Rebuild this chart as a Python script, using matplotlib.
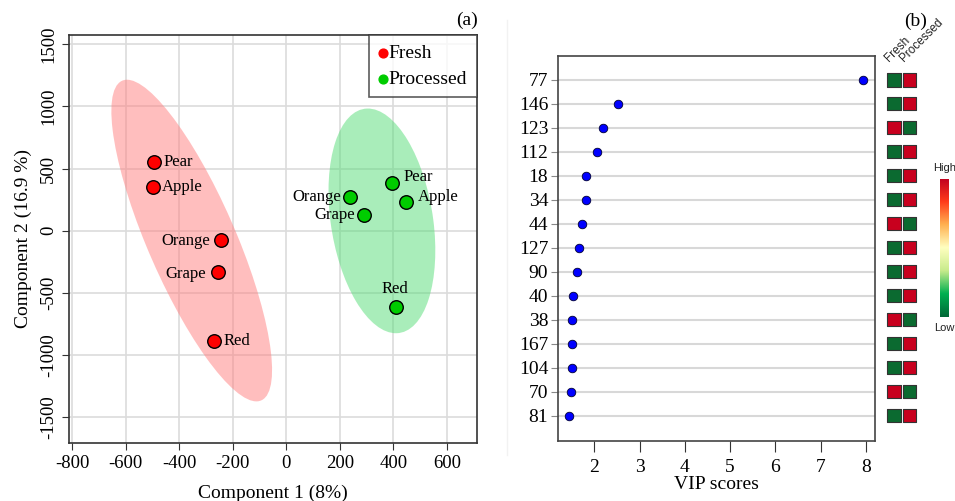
import numpy as np
import matplotlib
matplotlib.use("Agg")
import matplotlib.pyplot as plt
from matplotlib.patches import Ellipse
from matplotlib.colors import LinearSegmentedColormap

# ---------------- data ----------------
fruits = ["Pear", "Apple", "Orange", "Grape", "Red"]
fresh_x = [-496, -500, -243, -257, -272]
fresh_y = [551, 349, -76, -335, -889]
proc_x = [396, 448, 239, 291, 410]
proc_y = [383, 229, 270, 125, -615]

features = ["77", "146", "123", "112", "18", "34", "44", "127", "90", "40",
            "38", "167", "104", "70", "81"]
vip = [7.93, 2.52, 2.19, 2.07, 1.82, 1.81, 1.73, 1.66, 1.62, 1.54,
       1.51, 1.50, 1.50, 1.48, 1.45]
# 1 = high, 0 = low  (Fresh, Processed)
fresh_level = [0, 0, 1, 0, 0, 0, 1, 0, 0, 0, 1, 0, 0, 1, 0]
proc_level = [1, 1, 0, 1, 1, 1, 0, 1, 1, 1, 0, 1, 1, 0, 1]
heat_cols = ["Fresh", "Processed"]

xticks_a = [-800, -600, -400, -200, 0, 200, 400, 600]
yticks_a = [-1500, -1000, -500, 0, 500, 1000, 1500]
xticks_b = [2, 3, 4, 5, 6, 7, 8]

SERIF = ["Liberation Serif", "DejaVu Serif"]
SANS = ["Liberation Sans", "DejaVu Sans"]
plt.rcParams["font.family"] = SERIF
plt.rcParams["axes.unicode_minus"] = False

W, H = 955, 501
fig = plt.figure(figsize=(W / 100, H / 100), dpi=100)


def px_axes(l, t, r, b):
    return fig.add_axes([l / W, 1 - b / H, (r - l) / W, (b - t) / H])


# ---------------- panel (a) ----------------
ax = px_axes(69, 35, 477, 443)
ax.set_xlim(-812, 712)
ax.set_ylim(-1710, 1575)
ax.set_xticks(xticks_a)
ax.set_yticks(yticks_a)
ax.grid(True, color="#dcdcdc", lw=1.2)
ax.set_axisbelow(True)
for s in ax.spines.values():
    s.set_color("#333333")
    s.set_linewidth(1.2)
ax.tick_params(axis="both", labelsize=13.5, color="#333333", length=5)
for lab in ax.get_yticklabels():
    lab.set_rotation(90)
    lab.set_va("center")


def conf_ellipse(xs, ys, color, k=2.27):
    xs = np.asarray(xs, float)
    ys = np.asarray(ys, float)
    cov = np.cov(xs, ys)
    vals, vecs = np.linalg.eigh(cov)
    order = vals.argsort()[::-1]
    vals, vecs = vals[order], vecs[:, order]
    ang = np.degrees(np.arctan2(vecs[1, 0], vecs[0, 0]))
    e = Ellipse((xs.mean(), ys.mean()), 2 * k * np.sqrt(vals[0]),
                2 * k * np.sqrt(vals[1]), angle=ang, facecolor=color,
                edgecolor="none", alpha=0.5, zorder=1)
    ax.add_patch(e)


conf_ellipse(fresh_x, fresh_y, "#ff7f7f")
conf_ellipse(proc_x, proc_y, "#55dd77")

ax.scatter(fresh_x, fresh_y, s=95, c="#ff0000", edgecolors="black",
           linewidths=1.0, zorder=3)
ax.scatter(proc_x, proc_y, s=95, c="#00cc00", edgecolors="black",
           linewidths=1.0, zorder=3)

lab_kw = dict(fontsize=12, zorder=4)
# Fresh labels
for name, x, y in zip(fruits, fresh_x, fresh_y):
    if name in ("Pear", "Apple", "Red"):
        ax.annotate(name, (x, y), xytext=(7, 0), textcoords="offset points",
                    ha="left", va="center", **lab_kw)
    else:
        ax.annotate(name, (x, y), xytext=(-8, -1), textcoords="offset points",
                    ha="right", va="center", **lab_kw)
# Processed labels
for name, x, y in zip(fruits, proc_x, proc_y):
    if name in ("Pear", "Apple"):
        ax.annotate(name, (x, y), xytext=(8, 4), textcoords="offset points",
                    ha="left", va="center", **lab_kw)
    elif name == "Red":
        ax.annotate(name, (x, y), xytext=(-1, 7), textcoords="offset points",
                    ha="center", va="bottom", **lab_kw)
    else:
        ax.annotate(name, (x, y), xytext=(-7, 0), textcoords="offset points",
                    ha="right", va="center", **lab_kw)

h1 = ax.scatter([], [], s=40, c="#ff0000")
h2 = ax.scatter([], [], s=40, c="#00cc00")
leg = ax.legend([h1, h2], ["Fresh", "Processed"], loc="upper right",
                fontsize=14, frameon=True, fancybox=False, handlelength=0.4,
                handletextpad=0.1, borderpad=0.5, labelspacing=0.4,
                borderaxespad=0.0)
leg.get_frame().set_edgecolor("#333333")
leg.get_frame().set_linewidth(1.2)

ax.set_xlabel("Component 1 (8%)", fontsize=14, labelpad=9)
ax.set_ylabel("Component 2 (16.9 %)", fontsize=14, labelpad=6)
fig.text(467 / W, 1 - 20 / H, "(a)", fontsize=14, ha="center", va="center")

# ---------------- panel (b) ----------------
# faint outer frame of the VIP panel
fig.add_artist(plt.Line2D([507 / W, 507 / W], [1 - 20 / H, 1 - 455 / H],
                          color="#f2f2f2", lw=1.0))

bx = px_axes(558, 56, 875, 441)
rows = np.arange(len(features))
bx.set_xlim(1.2, 8.2)
bx.set_ylim(len(features) + 0.05, -1)
bx.set_yticks(rows)
bx.set_yticklabels(features)
bx.set_xticks(xticks_b)
for r in rows:
    bx.axhline(r, color="#d8d8d8", lw=1.5, zorder=0)
bx.scatter(vip, rows, s=38, c="#0000ff", edgecolors="#000033",
           linewidths=0.6, zorder=3)
for s in bx.spines.values():
    s.set_color("#444444")
    s.set_linewidth(1.2)
bx.tick_params(axis="y", labelsize=14, length=5, color="#888888", pad=2)
bx.tick_params(axis="x", labelsize=14, length=8, color="#333333", pad=5)
bx.set_xlabel("VIP scores", fontsize=14, labelpad=0)
fig.text(916 / W, 1 - 21 / H, "(b)", fontsize=14, ha="center", va="center")

# heatmap squares
hx = px_axes(884.6, 56, 919.1, 441)
hx.set_xlim(-0.6, 1.6)
hx.set_ylim(len(features) + 0.05, -1)
hx.axis("off")
colmap = {1: "#c8001e", 0: "#0b6a30"}
hx.scatter(np.zeros(len(rows)), rows, marker="s", s=88,
           c=[colmap[v] for v in fresh_level], edgecolors="#333333",
           linewidths=0.8)
hx.scatter(np.ones(len(rows)), rows, marker="s", s=88,
           c=[colmap[v] for v in proc_level], edgecolors="#333333",
           linewidths=0.8)
for i, name in enumerate(heat_cols):
    hx.text(i - 0.2, -0.68, name, rotation=45, fontsize=8.5, family=SANS,
            ha="left", va="bottom", rotation_mode="anchor", color="#222222",
            clip_on=False)

# colour key
cmap = LinearSegmentedColormap.from_list(
    "key", ["#006837", "#00b050", "#c8eb8c", "#ffffc0", "#ffb050",
            "#ff3a1a", "#c00020"])
cx = px_axes(940, 179, 949, 317)
cx.imshow(np.linspace(0, 1, 256)[:, None], aspect="auto", cmap=cmap,
          origin="lower")
cx.set_xticks([])
cx.set_yticks([])
for s in cx.spines.values():
    s.set_visible(False)
fig.text(944.5 / W, 1 - 168 / H, "High", fontsize=8, family=SANS,
         ha="center", va="center", color="#222222")
fig.text(944.5 / W, 1 - 328 / H, "Low", fontsize=8, family=SANS,
         ha="center", va="center", color="#222222")

fig.savefig("out.png", dpi=100)
